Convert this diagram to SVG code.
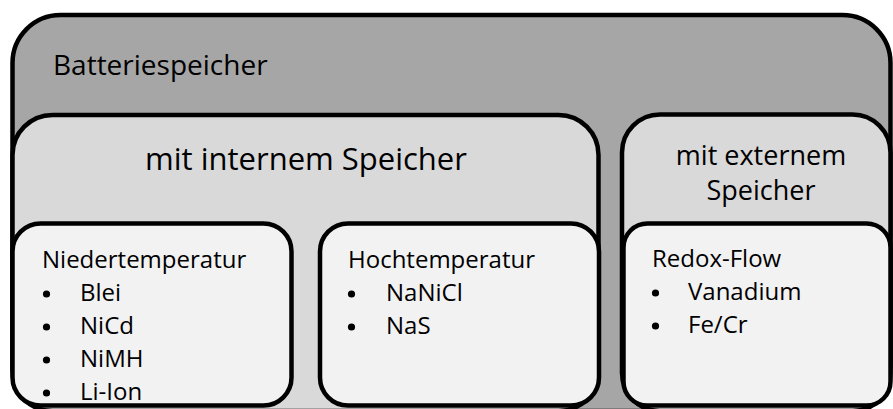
<svg xmlns="http://www.w3.org/2000/svg" width="893" height="409" viewBox="0 0 893 409">
  <style>
    .box { stroke: #000000; stroke-width: 4.5; }
    .outer { fill: #a6a6a6; }
    .mid { fill: #d9d9d9; }
    .inner { fill: #f2f2f2; }
    text { font-family: "Open Sans", "Liberation Sans", sans-serif; fill: #000000; }
    .big { font-size: 28px; }
    .midlabel { font-size: 27px; text-anchor: middle; }
    .midlarge { font-size: 31px; text-anchor: middle; }
    .small { font-size: 24px; }
    .bullet { fill: #000000; }
  </style>
  <rect width="893" height="409" fill="#ffffff"/>
  <g id="batteriespeicher">
    <rect class="box outer" x="12.5" y="15" width="878" height="396" rx="48" ry="48"/>
    <text class="big" x="53" y="75">Batteriespeicher</text>
  </g>
  <g id="mit-internem-speicher">
    <rect class="box mid" x="12.5" y="115" width="586" height="296" rx="40" ry="40"/>
    <text class="midlarge" x="306" y="170">mit internem Speicher</text>
  </g>
  <g id="mit-externem-speicher">
    <rect class="box mid" x="622" y="114.5" width="268.5" height="296.5" rx="38" ry="38"/>
    <text class="midlabel" x="761" y="165">mit externem</text>
    <text class="midlabel" x="761" y="200">Speicher</text>
  </g>
  <g id="niedertemperatur">
    <rect class="box inner" x="12.5" y="223.5" width="279" height="182" rx="28" ry="28"/>
    <text class="small" x="42" y="268">Niedertemperatur</text>
    <circle class="bullet" cx="46.5" cy="294" r="3.6"/>
    <text class="small" x="80" y="301">Blei</text>
    <circle class="bullet" cx="46.5" cy="327" r="3.6"/>
    <text class="small" x="80" y="334">NiCd</text>
    <circle class="bullet" cx="46.5" cy="360" r="3.6"/>
    <text class="small" x="80" y="367">NiMH</text>
    <circle class="bullet" cx="46.5" cy="393" r="3.6"/>
    <text class="small" x="80" y="400">Li-Ion</text>
  </g>
  <g id="hochtemperatur">
    <rect class="box inner" x="320" y="223.5" width="279" height="182" rx="28" ry="28"/>
    <text class="small" x="348" y="268">Hochtemperatur</text>
    <circle class="bullet" cx="351.5" cy="294" r="3.6"/>
    <text class="small" x="386" y="301">NaNiCl</text>
    <circle class="bullet" cx="351.5" cy="327" r="3.6"/>
    <text class="small" x="386" y="334">NaS</text>
  </g>
  <g id="redox-flow">
    <rect class="box inner" x="623.5" y="223.5" width="267" height="182" rx="24" ry="24"/>
    <text class="small" x="652" y="267">Redox-Flow</text>
    <circle class="bullet" cx="655.5" cy="293" r="3.6"/>
    <text class="small" x="688" y="300">Vanadium</text>
    <circle class="bullet" cx="655.5" cy="326" r="3.6"/>
    <text class="small" x="688" y="333">Fe/Cr</text>
  </g>
  <g id="connectors"/>
</svg>
